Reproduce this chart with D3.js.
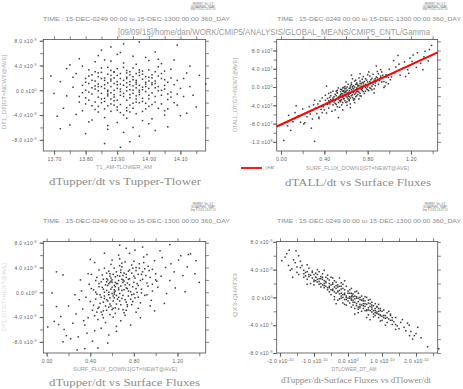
<!DOCTYPE html>
<html>
<head>
<meta charset="utf-8">
<script src="https://cdn.jsdelivr.net/npm/d3@7"></script>
<style>
body{margin:0;background:#fff;}
svg{display:block;}
</style>
</head>
<body>
<div id="vis"></div>
<script>
// header text
var timeLine = "TIME : 15-DEC-0249 00:00 to 15-DEC-1300 00:00 360_DAY";
var pathLine = "[09/09/15]/home/dan/WORK/CMIP5/ANALYSIS/GLOBAL_MEANS/CMIP5_CNTL/Gamma";
var stamp = ["FERRET Ver. 6.9", "NOAA/PMEL TMAP", "Sep 9 2015 13:47:13"];
var titles = ["dTupper/dt vs Tupper-Tlower", "dTALL/dt vs Surface Fluxes", "dTupper/dt vs Surface Fluxes", "dTupper/dt-Surface Fluxes vs dTlower/dt"];
var xTitles = ["T1_AM-TLOWER_AM", "SURF_FLUX_DOWN1[GT=NEWT@AVE]", "SURF_FLUX_DOWN1[GT=NEWT@AVE]", "DTLOWER_DT_AM"];
var yTitles = ["DT1_DT[GT=NEWT@AVE]", "DTALL_DT[GT=NEWT@AVE]", "DT1_DT[GT=NEWT@AVE]", "QX3-QHATX3"];

// panel 1 : x = T1_AM-TLOWER_AM, y in 1e-9
var p1 = [[13.93,0.5],[13.88,1.8],[13.97,-0.7],[13.85,2.9],[14.02,1.1],[13.91,-2.3],[13.79,0.8],[14.06,-1.5],[13.95,3.6],[13.87,-0.2],
[13.99,2.2],[13.83,-3.1],[14.01,-0.4],[13.90,1.4],[13.94,-1.2],[13.81,3.3],[14.08,0.9],[13.96,-3.8],[13.86,0.3],[14.04,2.7],
[13.89,-1.7],[13.92,4.4],[13.78,-1.0],[14.00,-2.6],[13.84,1.0],[13.98,0.1],[13.93,-4.5],[14.11,1.9],[13.80,-2.2],[13.95,1.7],
[13.88,-3.4],[14.03,3.8],[13.76,2.1],[13.91,0.2],[14.07,-0.3],[13.86,4.9],[13.97,2.9],[13.82,-0.6],[14.05,-3.3],[13.90,-5.2],
[13.74,-0.9],[13.99,5.3],[13.94,2.5],[13.85,-2.0],[14.02,0.4],[13.89,3.0],[14.09,-2.4],[13.80,0.0],[13.96,-0.9],[13.87,1.2],
[14.13,0.6],[13.93,-2.8],[13.77,-3.9],[14.00,1.5],[13.84,5.6],[13.98,-1.8],[13.91,6.1],[14.06,1.3],[13.83,0.7],[13.95,-6.0],
[13.72,1.4],[14.01,-4.6],[13.88,2.4],[14.04,-0.8],[13.79,3.9],[13.92,-0.5],[14.10,-4.1],[13.86,-4.4],[13.97,0.8],[13.81,-5.1],
[14.03,5.0],[13.90,3.5],[13.75,-5.6],[13.94,0.9],[14.07,3.4],[13.85,-1.4],[13.99,-3.0],[13.89,0.0],[14.12,2.8],[13.82,2.5],
[13.96,4.2],[13.73,-2.9],[14.02,-1.9],[13.87,-6.3],[14.05,0.2],[13.93,1.9],[13.78,5.1],[14.00,-5.4],[13.84,-2.6],[13.98,3.1],
[13.91,-3.6],[14.08,-2.0],[13.80,-7.0],[13.95,-2.1],[14.14,-0.8],[13.86,1.6],[14.01,2.0],[13.76,0.5],[13.92,7.5],[13.97,-7.4],
[13.83,4.6],[14.04,4.3],[13.88,-0.4],[13.71,-4.2],[14.06,-5.9],[13.94,-8.3],[13.85,6.5],[14.09,1.6],[13.90,-1.6],[13.99,0.6],
[13.81,1.1],[14.03,-2.9],[13.87,3.7],[13.96,1.0],[14.11,-1.0],[13.79,-3.3],[13.93,3.2],[14.00,4.8],[13.84,-0.1],[13.98,-4.9],
[13.89,2.0],[14.15,-2.7],[13.82,-4.8],[13.95,0.0],[14.05,1.7],[13.77,2.7],[13.91,-0.8],[14.02,6.2],[13.86,-3.0],[13.97,2.4],
[13.74,3.5],[14.07,-1.1],[13.92,-6.8],[13.83,3.0],[14.01,0.9],[13.88,4.7],[14.13,3.9],[13.80,1.9],[13.94,-3.5],[13.99,-0.2],
[13.70,-0.5],[14.04,0.0],[13.90,5.8],[13.85,0.6],[14.08,4.9],[13.96,-1.4],[13.78,-1.9],[13.93,2.8],[14.02,-6.5],[13.87,-5.7],
[13.84,2.2],[14.10,0.3],[13.98,1.8],[13.81,-1.6],[13.95,5.5],[14.05,-4.0],[13.89,-2.4],[13.75,4.1],[14.00,3.3],[13.92,-4.0],
[13.86,-8.6],[13.91,-9.2],[14.16,2.4],[14.18,1.0],[13.69,2.3],[13.72,-6.2],[14.12,-3.7],[13.88,7.0],[13.97,7.8],[14.09,7.3],
[13.90,0.9],[13.96,1.3],[13.87,-0.9],[14.00,0.3],[13.84,-1.1],[13.93,2.1],[13.98,-1.3],[13.89,1.1],[14.03,-0.1],[13.86,2.0],
[13.95,-0.5],[13.92,0.8],[13.82,1.6],[14.01,2.5],[13.88,-2.2],[13.97,-2.0],[13.91,2.7],[14.05,0.8],[13.85,-0.5],[13.94,1.4],
[13.99,1.0],[13.83,0.2],[13.90,-2.7],[14.02,-1.0],[13.87,2.6],[13.96,0.4],[13.93,-1.6],[13.80,1.3],[14.04,1.9],[13.89,-1.1],
[13.98,2.6],[13.86,-1.8],[13.92,1.6],[14.00,-0.8],[13.84,2.8],[13.95,-2.9],[13.88,0.6],[14.06,-0.6],[13.91,-0.2],[13.97,3.3],
[13.82,-2.5],[13.94,0.1],[14.01,1.2],[13.87,0.0],[13.99,-2.1],[13.85,1.9],[13.93,1.2],[14.03,2.3],[13.90,0.3],[13.96,-1.9],
[13.81,-0.3],[13.92,-1.0],[14.07,2.0],[13.88,3.2],[13.95,2.2],[13.84,-3.5],[14.02,3.0],[13.89,-0.7],[13.98,0.5],[13.86,0.9],
[13.94,3.0],[14.00,-1.4],[13.83,1.5],[13.91,1.9],[13.97,-0.3],[13.87,-2.5],[14.04,-2.2],[13.90,2.4],[13.93,-0.1],[13.85,3.6],
[14.09,-0.6],[13.79,-0.4],[13.96,1.6],[13.88,1.5],[14.01,-2.3],[13.92,3.7],[13.82,0.4],[13.99,1.3],[13.86,-1.3],[13.94,-2.4],
[14.05,3.1],[13.90,-3.2],[13.97,0.0],[13.84,0.6],[14.03,0.6],[13.89,2.9],[13.95,0.7],[13.81,2.3],[14.00,2.1],[13.87,-0.6],
[13.93,-3.3],[14.06,-3.0],[13.91,1.0],[13.98,-3.4],[13.83,-1.9],[13.96,2.7],[13.88,-1.4],[14.02,1.5],[13.80,-1.2],[13.94,-0.7]];

// panel 2 : x = surface flux, y in 1e7
var p2 = [[0.62,-1.2],[0.55,-2.9],[0.71,0.4],[0.48,-3.9],[0.80,1.1],[0.66,-2.3],[0.43,-2.5],[0.75,-0.8],[0.59,-0.4],[0.52,-4.3],
[0.84,0.2],[0.68,1.3],[0.46,-1.9],[0.73,-1.9],[0.57,-1.5],[0.90,2.9],[0.64,-0.2],[0.40,-5.0],[0.78,-0.1],[0.61,-3.2],
[0.50,-1.6],[0.87,0.9],[0.70,-0.3],[0.53,-2.2],[0.95,1.2],[0.66,-1.0],[0.44,-4.6],[0.82,2.4],[0.58,-2.6],[0.74,-2.0],
[0.36,-3.1],[0.69,1.5],[0.92,2.1],[0.56,-0.6],[0.79,0.3],[0.47,-5.3],[0.63,-2.8],[1.00,3.9],[0.51,-0.9],[0.76,0.9],
[0.41,-2.9],[0.85,2.8],[0.60,-1.1],[0.72,-2.6],[0.33,-5.8],[0.97,1.0],[0.65,0.5],[0.54,-4.4],[0.88,2.2],[0.45,-2.3],
[0.77,-1.4],[0.62,0.6],[1.05,3.1],[0.38,-5.6],[0.81,-0.8],[0.57,-3.4],[0.69,-1.3],[0.49,-3.3],[0.93,3.3],[0.73,0.8],
[0.30,-3.9],[0.86,-0.4],[0.59,0.1],[1.09,5.0],[0.42,-3.6],[0.67,-2.9],[0.83,1.6],[0.52,-1.3],[0.99,2.1],[0.35,-6.6],
[0.75,1.7],[0.61,-4.0],[0.46,-1.2],[0.90,0.6],[0.70,-1.9],[1.13,4.2],[0.55,-0.5],[0.27,-5.9],[0.80,2.7],[0.64,-3.7],
[0.39,-4.3],[0.96,0.2],[0.72,2.0],[0.50,-5.0],[1.02,2.2],[0.58,-0.1],[0.32,-4.6],[0.87,1.8],[0.67,0.3],[0.44,-3.0],
[1.17,3.8],[0.78,-0.9],[0.24,-6.5],[0.62,-2.0],[0.93,1.1],[0.53,-0.2],[0.37,-4.9],[1.06,4.4],[0.74,-0.5],[0.48,-2.7],
[0.20,-4.8],[0.84,-0.6],[0.66,1.8],[1.21,5.6],[0.41,-1.8],[0.57,-5.0],[0.97,2.7],[0.29,-7.0],[0.79,1.5],[0.63,-0.8],
[1.10,2.6],[0.34,-3.7],[0.89,3.4],[0.51,-3.8],[0.70,0.6],[0.16,-6.3],[1.25,4.3],[0.45,-3.7],[0.82,-0.2],[0.60,1.1],
[0.22,-7.8],[1.01,1.6],[0.76,2.3],[0.42,-5.7],[1.14,5.5],[0.55,-1.9],[0.13,-5.6],[0.92,3.8],[0.68,-3.4],[0.31,-2.9],
[1.29,5.2],[0.48,-0.9],[0.86,-1.3],[0.18,-7.7],[1.04,5.8],[0.64,-4.5],[0.26,-4.3],[0.95,-0.1],[0.73,2.9],[0.38,-2.4],
[1.32,6.6],[0.11,-7.6],[0.81,3.3],[0.56,-3.9],[1.18,3.0],[0.35,-6.9],[0.99,0.7],[0.07,-6.2],[1.36,5.7],[0.44,-1.4],
[0.06,-8.5],[0.14,-4.1],[0.21,-8.1],[0.025,-11.7],[0.31,-11.9],[1.39,9.1],[1.26,7.5],[1.33,7.8],[1.08,6.9],[1.31,3.8],
[1.37,8.2],[1.22,7.0],[1.19,6.3],[0.28,-9.0],[0.09,-9.5],[0.53,-6.7],[0.88,4.6],[1.15,2.3],[0.42,0.2],[0.65,2.6],
[0.60,-2.0],[0.65,-0.6],[0.55,-1.6],[0.70,-1.0],[0.58,-1.9],[0.63,-1.5],[0.68,0.0],[0.52,-2.5],[0.73,-0.1],[0.61,-0.7],
[0.66,-1.7],[0.57,-2.3],[0.71,-0.9],[0.49,-2.1],[0.76,0.4],[0.62,-2.6],[0.54,-3.0],[0.69,-0.6],[0.80,0.0],[0.59,-1.2],
[0.64,-1.3],[0.47,-3.0],[0.74,0.2],[0.56,-2.8],[0.67,-0.4],[0.83,0.9],[0.60,-0.9],[0.72,-1.1],[0.51,-1.9],[0.78,0.6],
[0.63,-0.3],[0.53,-3.4],[0.70,0.9],[0.58,-0.8],[0.86,1.5],[0.65,-1.9],[0.45,-3.2],[0.75,-0.4],[0.61,-2.3],[0.68,-1.6],
[0.55,-1.0],[0.81,0.5],[0.66,0.1],[0.50,-2.9],[0.73,-1.4],[0.59,-3.0],[0.88,1.3],[0.62,-1.4],[0.77,1.2],[0.54,-2.0],
[0.69,-2.1],[0.57,-0.9],[0.84,1.9],[0.64,0.2],[0.48,-2.4],[0.72,0.3],[0.60,-3.4],[0.91,1.4],[0.67,-1.2],[0.52,-1.2],
[0.79,-0.4],[0.63,-2.1],[0.56,-1.5],[0.71,-1.6],[0.94,2.6],[0.65,0.9],[0.58,-2.5],[0.76,-1.0],[0.43,-3.8],[0.82,1.2],
[0.61,0.0],[0.74,0.7],[0.53,-2.6],[0.68,-2.6],[0.87,0.3],[0.59,-1.6],[0.66,-0.2],[0.50,-3.6],[0.78,1.8],[0.62,-1.7],
[0.97,2.2],[0.55,-3.2],[0.70,-0.2],[0.46,-2.8],[0.85,0.6],[0.64,-2.4],[0.73,1.3],[0.57,-0.2],[0.80,-0.6],[0.60,-0.3],
[0.92,2.4],[0.67,-2.6],[0.52,-0.7],[0.75,1.0],[0.63,-3.0],[0.89,2.0],[0.58,-1.0],[0.71,0.2],[0.83,-0.3],[0.69,0.6]];
// QHAT fit line end points (y in 1e7)
var qhatX = [-0.04, 1.447];
var qhatY = [-8.64, 7.57];

// panel 3 : x = surface flux, y in 1e-9
var p3 = [[0.62,0.4],[0.55,-1.2],[0.71,1.8],[0.48,0.9],[0.80,2.6],[0.66,-0.8],[0.43,-2.1],[0.75,0.2],[0.59,2.3],[0.52,-3.0],
[0.84,1.1],[0.68,3.2],[0.46,-0.3],[0.73,-1.6],[0.57,0.0],[0.90,3.8],[0.64,1.4],[0.40,-1.5],[0.78,-0.4],[0.61,-2.6],
[0.50,1.7],[0.87,0.5],[0.70,2.0],[0.53,-0.6],[0.95,2.4],[0.66,0.7],[0.44,-3.8],[0.82,3.5],[0.58,-1.9],[0.74,-2.3],
[0.36,-0.8],[0.69,4.1],[0.92,1.5],[0.56,1.1],[0.79,0.9],[0.47,-4.4],[0.63,-3.4],[1.00,3.0],[0.51,2.8],[0.76,1.2],
[0.41,0.6],[0.85,4.6],[0.60,-0.2],[0.72,-3.7],[0.33,-2.7],[0.97,0.2],[0.65,2.7],[0.54,-4.9],[0.88,2.1],[0.45,1.9],
[0.77,-1.1],[0.62,3.9],[1.05,2.6],[0.38,-4.1],[0.81,-0.9],[0.57,-2.4],[0.69,0.3],[0.49,-1.8],[0.93,4.2],[0.73,2.9],
[0.30,-1.2],[0.86,-1.7],[0.59,4.5],[1.09,4.0],[0.42,-2.9],[0.67,-1.4],[0.83,0.0],[0.52,0.5],[0.99,5.1],[0.35,-5.3],
[0.75,3.4],[0.61,-4.0],[0.46,2.4],[0.90,-0.5],[0.70,-2.8],[1.13,1.9],[0.55,3.1],[0.27,-3.5],[0.80,5.0],[0.64,-5.5],
[0.39,1.3],[0.96,-1.3],[0.72,4.9],[0.50,-5.8],[1.02,0.8],[0.58,1.6],[0.32,0.2],[0.87,2.9],[0.67,5.4],[0.44,-6.2],
[1.17,3.3],[0.78,-2.0],[0.24,-5.0],[0.62,-0.9],[0.93,1.0],[0.53,3.9],[0.37,-6.6],[1.06,5.6],[0.74,0.6],[0.48,-2.4],
[0.20,-2.2],[0.84,-2.6],[0.66,6.0],[1.21,5.2],[0.41,2.9],[0.57,-6.9],[0.97,3.7],[0.29,-7.2],[0.79,3.9],[0.63,0.9],
[1.10,-0.2],[0.34,-4.6],[0.89,5.7],[0.51,-3.6],[0.70,1.6],[0.16,-6.0],[1.25,2.7],[0.45,0.0],[0.82,-3.2],[0.60,5.2],
[0.22,-7.5],[1.01,1.8],[0.76,6.3],[0.42,-7.9],[1.14,4.6],[0.55,2.2],[0.13,-3.9],[0.92,6.1],[0.68,-4.6],[0.31,2.0],
[1.29,4.1],[0.48,3.6],[0.86,-4.1],[0.18,-7.0],[1.04,6.7],[0.64,-6.3],[0.26,-0.4],[0.95,-2.2],[0.73,7.1],[0.38,3.0],
[1.32,6.2],[0.11,-5.2],[0.81,6.8],[0.56,-8.2],[1.18,0.7],[0.35,-9.1],[0.99,-3.0],[0.07,-4.7],[1.36,3.0],[0.44,4.8],
[0.01,-5.6],[0.05,-0.1],[0.67,7.6],[1.40,1.6],[0.88,7.3],[0.28,-9.3],[1.23,5.9],[0.15,-8.0],[0.53,6.3],[0.09,-2.3],
[1.08,-1.8],[0.40,5.3],[0.77,-5.3],[1.27,0.1],[0.47,-9.0],[0.09,3.3],[0.15,2.8],[1.13,7.7],[1.37,5.1],[1.30,6.1],
[0.60,0.8],[0.66,1.9],[0.55,0.3],[0.70,-0.5],[0.58,-0.9],[0.63,2.5],[0.68,1.0],[0.52,-1.6],[0.73,0.7],[0.61,-1.4],
[0.76,2.2],[0.57,1.4],[0.71,3.1],[0.49,-0.4],[0.80,1.6],[0.62,-0.3],[0.54,-2.2],[0.69,2.1],[0.84,2.9],[0.59,0.5],
[0.64,-1.9],[0.47,-2.6],[0.74,1.5],[0.56,2.0],[0.67,-0.2],[0.82,0.6],[0.60,1.6],[0.72,-1.2],[0.51,0.8],[0.78,3.1],
[0.63,0.2],[0.53,-1.0],[0.88,3.3],[0.58,3.0],[0.86,1.9],[0.65,-1.1],[0.45,-1.1],[0.75,-0.6],[0.61,2.9],[0.68,-2.0],
[0.55,-2.9],[0.81,2.3],[0.66,0.4],[0.50,-3.2],[0.73,2.4],[0.59,-2.2],[0.91,2.7],[0.62,1.1],[0.77,0.1],[0.54,1.2],
[0.69,-1.0],[0.57,-0.4],[0.84,-0.8],[0.64,3.3],[0.48,1.4],[0.72,1.2],[0.60,-2.8],[0.94,3.5],[0.67,2.6],[0.52,2.1],
[0.79,-1.5],[0.63,-2.5],[0.56,-1.4],[0.71,0.4],[0.97,1.3],[0.65,1.4],[0.58,2.6],[0.76,3.6],[0.43,0.4],[0.82,4.0],
[0.61,-0.6],[0.74,-2.0],[0.53,0.0],[0.68,3.6],[0.87,-0.1],[0.59,1.8],[0.66,-2.7],[0.50,-0.8],[0.78,4.4],[0.62,0.0],
[1.00,2.0],[0.55,1.7],[0.70,2.7],[0.46,-3.2],[0.85,3.9],[0.64,-0.5],[0.73,-2.9],[0.57,3.4],[0.80,-0.3],[0.60,2.0],
[0.92,-0.4],[0.67,4.3],[0.52,-4.1],[0.75,2.1],[0.63,1.6],[0.89,4.8],[0.58,-3.6],[0.71,-3.3],[0.83,1.4],[0.69,4.7]];

// panel 4 : x in 1e-10, y in 1e-9
var p4 = [[-0.30,1.5],[0.12,0.3],[-0.65,2.9],[0.45,-0.2],[-0.10,-0.3],[0.70,-2.1],[-0.85,1.9],[0.25,0.9],[-0.45,1.0],[0.90,-2.9],
[-0.20,2.1],[0.55,-1.8],[-1.05,3.8],[0.05,-0.8],[0.35,-1.5],[-0.55,2.5],[1.05,-1.8],[-0.75,3.4],[0.15,-1.1],[-0.35,0.6],
[0.80,-0.9],[-1.20,2.6],[0.60,-0.4],[-0.05,1.6],[0.40,0.2],[-0.90,2.2],[1.15,-3.6],[-0.25,-0.2],[0.20,-0.2],[-0.60,1.1],
[0.95,-1.6],[-1.35,4.6],[0.30,-2.2],[-0.15,0.4],[0.65,-1.3],[-0.70,2.0],[1.25,-2.4],[-0.40,2.4],[0.10,1.3],[-1.00,2.5],
[0.50,-0.9],[-0.50,0.4],[0.85,-2.3],[-1.15,4.2],[0.00,0.9],[0.75,-2.8],[-0.80,3.0],[0.35,0.0],[-0.30,-0.4],[1.10,-3.0],
[-1.45,3.3],[0.20,-1.6],[-0.20,1.2],[0.60,-2.5],[-0.95,3.5],[1.30,-3.9],[-0.10,-1.0],[0.45,-1.2],[-0.60,3.2],[0.90,-1.0],
[-1.25,3.1],[0.05,0.1],[-0.40,0.1],[0.70,-0.7],[-0.85,2.7],[1.40,-2.9],[0.25,-0.9],[-0.05,0.0],[-1.55,5.0],[0.55,-2.9],
[-0.70,1.4],[1.00,-3.3],[-0.25,2.8],[0.15,0.5],[-1.10,2.0],[0.80,-1.6],[-0.45,1.9],[1.20,-2.0],[0.30,0.6],[-0.15,-0.8],
[-0.90,4.0],[0.65,-0.3],[-1.65,4.1],[0.40,-2.0],[0.00,-0.5],[1.05,-2.6],[-0.55,0.8],[-1.30,3.9],[0.95,-3.4],[-0.35,1.7],
[0.10,-0.4],[1.35,-3.5],[-0.80,1.5],[0.50,0.1],[-1.05,2.8],[0.75,-1.9],[-0.20,-0.1],[1.50,-4.5],[-0.65,2.3],[0.20,0.8],
[-1.40,5.2],[0.85,-1.3],[-0.10,0.6],[1.15,-2.2],[-0.50,2.9],[0.35,-1.3],[-1.75,4.6],[0.60,-1.8],[-0.30,0.8],[1.45,-4.1],
[-0.95,2.9],[0.05,1.1],[-1.20,4.7],[0.90,-2.0],[-0.40,-0.3],[1.60,-3.2],[0.25,-0.1],[-0.75,2.6],[1.25,-3.3],[-1.50,3.6],
[0.45,-0.5],[-0.15,1.9],[1.70,-4.8],[-0.85,3.7],[0.15,-0.4],[-1.85,5.8],[0.70,-1.4],[-0.55,1.6],[1.10,-4.0],[-1.15,3.3],
[0.30,-1.7],[1.55,-3.6],[-0.25,1.0],[-1.60,5.4],[0.80,-2.6],[-0.05,-1.1],[1.80,-4.0],[-0.70,3.9],[0.55,0.0],[-1.30,2.9],
[1.30,-2.9],[0.10,-1.4],[-1.95,5.3],[0.95,-2.5],[-0.45,2.8],[1.85,-4.9],[-1.00,1.8],[0.40,-0.4],[1.65,-4.3],[-1.70,3.9],
[-1.73,6.8],[-1.53,6.7],[-1.63,2.9],[2.05,-4.3],[1.90,-6.0],[2.34,-7.1],[2.67,-7.4],[1.81,-5.5],[2.00,-5.2],[-1.80,6.3],
[1.75,-3.7],[-1.45,6.0],[0.65,-3.2],[-0.10,2.4],[1.95,-5.5],[-1.20,1.9],[0.20,-2.4],[1.40,-4.6],[-0.35,-0.9],[2.15,-5.8],
[-0.30,0.9],[0.10,0.6],[-0.50,1.8],[0.30,-0.6],[-0.10,0.4],[0.50,-1.3],[-0.70,2.4],[0.20,0.2],[-0.40,1.5],[0.70,-1.7],
[-0.20,0.2],[0.40,-1.1],[-0.90,2.6],[0.00,0.6],[0.60,-0.8],[-0.60,1.4],[0.90,-2.4],[-0.80,2.0],[0.15,-0.7],[-0.35,1.3],
[0.80,-1.9],[-1.00,3.3],[0.55,-1.0],[-0.15,1.3],[0.35,-0.3],[-0.65,2.1],[1.00,-2.0],[-0.25,0.5],[0.25,-1.2],[-0.55,2.0],
[0.85,-1.4],[-1.10,3.2],[0.45,-1.6],[-0.05,0.2],[0.65,-1.9],[-0.75,2.9],[1.10,-2.6],[-0.45,1.2],[0.05,-0.1],[-0.95,2.9],
[0.50,-0.5],[-0.50,1.1],[0.75,-1.2],[-1.20,3.7],[-0.10,1.1],[0.95,-2.6],[-0.85,2.3],[0.30,-0.1],[-0.30,1.8],[1.05,-2.9],
[-1.30,3.4],[0.20,-0.7],[-0.20,0.6],[0.60,-1.5],[-0.90,3.3],[1.20,-3.1],[-0.05,-0.3],[0.40,-0.4],[-0.60,2.7],[0.85,-2.1],
[-1.15,3.0],[0.10,-0.2],[-0.40,0.8],[0.70,-1.1],[-0.70,1.7],[1.15,-2.9],[0.25,0.1],[0.00,-0.1],[-1.40,4.3],[0.55,-1.9],
[-0.80,2.7],[0.90,-1.6],[-0.25,1.6],[0.15,0.1],[-1.05,3.6],[0.80,-2.2],[-0.45,2.1],[1.30,-3.3],[0.35,-1.0],[-0.15,0.0],
[-0.95,2.4],[0.65,-0.9],[-1.50,4.4],[0.45,-0.9],[0.05,0.6],[1.00,-2.7],[-0.55,1.4],[-1.25,3.6],[0.95,-1.9],[-0.35,2.2],
[0.10,0.1],[1.25,-2.6],[-0.75,1.8],[0.50,-1.9],[-1.00,2.3],[0.75,-2.4],[-0.20,1.6],[1.40,-3.9],[-0.65,1.6],[0.30,-1.4]];

// ticks and tick labels
var p1xTicks = [13.70,13.75,13.80,13.85,13.90,13.95,14.00,14.05,14.10,14.15];
var p1xLabVals = [13.70,13.80,13.90,14.00,14.10];
var p1xLabs = ["13.70","13.80","13.90","14.00","14.10"];
var fluxTicks = [0,0.2,0.4,0.6,0.8,1.0,1.2,1.4];
var fluxLabVals = [0,0.4,0.8,1.2];
var fluxLabs = ["0.00","0.40","0.80","1.20"];
var dtTicks = [-8,-6,-4,-2,0,2,4,6,8];
var dtLabVals = [-8,-4,0,4,8];
var dtLabs = ["-8.0","-4.0","0.0","4.0","8.0"];
var dtExp = ["-9","-9","0","-9","-9"];
var p2yTicks = [-12,-10,-8,-6,-4,-2,0,2,4,6,8,10];
var p2yLabVals = [-12,-8,-4,0,4,8];
var p2yLabs = ["-1.2","-8.0","-4.0","0.0","4.0","8.0"];
var p2yExp = ["8","7","7","0","7","7"];
var p4xTicks = [-2,-1.5,-1,-0.5,0,0.5,1,1.5,2,2.5];
var p4xLabVals = [-2,-1,0,1,2];
var p4xLabs = ["-2.0","-1.0","0.0","1.0","2.0"];
var p4xExp = ["-10","-10","0","-10","-10"];

var W = 463, H = 389;
var axisCol = "#4d4d4d", tickLabCol = "#5c5c5c", ptCol = "#3a3a3a";
var sans = "'Liberation Sans', Arial, sans-serif";
var serif = "'Liberation Serif', 'DejaVu Serif', serif";

var svg = d3.select("#vis").append("svg").attr("width", W).attr("height", H);
svg.append("rect").attr("width", W).attr("height", H).attr("fill", "#fff");

function txt(s, x, y, size, col, len, fam){
    var t = svg.append("text").text(s).attr("x", x).attr("y", y)
        .attr("font-size", size).attr("fill", col).attr("font-family", fam || sans);
    if(len){ t.attr("textLength", len).attr("lengthAdjust", "spacingAndGlyphs"); }
    return t;
}

// write mantissa + "x10" + superscript exponent into an axis label
function expLabel(sel, labs, exps){
    sel.each(function(d, i){
        var t = d3.select(this).text(null);
        if(exps){
            t.append("tspan").text(labs[i] + " x10");
            t.append("tspan").attr("dy", -2).attr("font-size", 3.6).text(exps[i]);
        }else{
            t.text(labs[i]);
        }
    });
}

var panels = [
    {id:1, l:43.3, r:205.7, t:39.5, b:151, xDom:[13.666,14.18], yDom:[-9.8,8.2], pts:p1,
     xTicks:p1xTicks, xLabVals:p1xLabVals, xLabs:p1xLabs, xExp:null,
     yTicks:dtTicks, yLabVals:dtLabVals, yLabs:dtLabs, yExp:dtExp, gap:6.5},
    {id:2, l:276.7, r:437.7, t:39.5, b:151, xDom:[-0.04,1.447], yDom:[-14,10.4], pts:p2,
     xTicks:fluxTicks, xLabVals:fluxLabVals, xLabs:fluxLabs, xExp:null,
     yTicks:p2yTicks, yLabVals:p2yLabVals, yLabs:p2yLabs, yExp:p2yExp, gap:4},
    {id:3, l:43.3, r:205.7, t:241.5, b:353, xDom:[-0.031,1.459], yDom:[-9.8,8.2], pts:p3,
     xTicks:fluxTicks, xLabVals:fluxLabVals, xLabs:fluxLabs, xExp:null,
     yTicks:dtTicks, yLabVals:dtLabVals, yLabs:dtLabs, yExp:dtExp, gap:6.5},
    {id:4, l:276.7, r:437.7, t:241.5, b:353, xDom:[-2.097,2.638], yDom:[-8,8.05], pts:p4,
     xTicks:p4xTicks, xLabVals:p4xLabVals, xLabs:p4xLabs, xExp:p4xExp,
     yTicks:dtTicks, yLabVals:dtLabVals, yLabs:dtLabs, yExp:dtExp, gap:4}
];

function drawPanel(p){
    var x = d3.scaleLinear().domain(p.xDom).range([p.l, p.r]);
    var y = d3.scaleLinear().domain(p.yDom).range([p.b, p.t]);
    var g = svg.append("g");

    // outward ticks on all four sides
    var sides = [
        [d3.axisBottom(x).tickValues(p.xTicks), "translate(0," + p.b + ")"],
        [d3.axisTop(x).tickValues(p.xTicks), "translate(0," + p.t + ")"],
        [d3.axisLeft(y).tickValues(p.yTicks), "translate(" + p.l + ",0)"],
        [d3.axisRight(y).tickValues(p.yTicks), "translate(" + p.r + ",0)"]
    ];
    sides.forEach(function(s){
        var a = g.append("g").attr("transform", s[1]).call(s[0].tickSize(3.2).tickFormat(""));
        a.select(".domain").remove();
        a.selectAll("line").attr("stroke", axisCol).attr("stroke-width", 0.7);
    });

    // frame
    g.append("rect").attr("x", p.l).attr("y", p.t).attr("width", p.r - p.l).attr("height", p.b - p.t)
        .attr("fill", "none").attr("stroke", axisCol).attr("stroke-width", 0.8);

    // labelled ticks
    var xa = g.append("g").attr("transform", "translate(0," + p.b + ")")
        .call(d3.axisBottom(x).tickValues(p.xLabVals).tickSize(3.8));
    xa.select(".domain").remove();
    xa.attr("font-size", 5).attr("font-family", sans);
    xa.selectAll("line").attr("stroke", axisCol).attr("stroke-width", 0.7);
    xa.selectAll("text").attr("y", 10).attr("dy", null).attr("fill", tickLabCol).attr("letter-spacing", 0.3);
    expLabel(xa.selectAll("text"), p.xLabs, p.xExp);

    var ya = g.append("g").attr("transform", "translate(" + p.l + ",0)")
        .call(d3.axisLeft(y).tickValues(p.yLabVals).tickSize(3.8));
    ya.select(".domain").remove();
    ya.attr("font-size", 5).attr("font-family", sans);
    ya.selectAll("line").attr("stroke", axisCol).attr("stroke-width", 0.7);
    ya.selectAll("text").attr("x", -p.gap).attr("dy", "0.35em").attr("fill", tickLabCol).attr("letter-spacing", 0.3);
    expLabel(ya.selectAll("text"), p.yLabs, p.yExp);

    // points
    g.append("g").selectAll("rect").data(p.pts).join("rect")
        .attr("x", function(d){ return x(d[0]) - 0.75; })
        .attr("y", function(d){ return y(d[1]) - 0.75; })
        .attr("width", 1.5).attr("height", 1.5)
        .attr("fill", ptCol);

    return {x:x, y:y, g:g};
}

var drawn = panels.map(drawPanel);

// QHAT regression line on panel 2
var q = drawn[1];
var qline = d3.line().x(function(d){ return q.x(d[0]); }).y(function(d){ return q.y(d[1]); });
q.g.append("path").datum(d3.zip(qhatX, qhatY)).attr("d", qline)
    .attr("fill", "none").attr("stroke", "#ff0000").attr("stroke-width", 2);
svg.append("line").attr("x1", 241).attr("x2", 262).attr("y1", 168).attr("y2", 168)
    .attr("stroke", "#ff0000").attr("stroke-width", 1.8);
txt("QHAT", 265, 169.3, 3.6, "#888");

// page headers
txt(pathLine, 118, 35, 8.5, "#9a9a9a", 312);
[[43, 21, 187], [277, 21, 184], [43, 223, 187], [277, 223, 184]].forEach(function(h){
    txt(timeLine, h[0], h[1], 6.2, "#8a8a8a", h[2]);
});
[[203, 4.6], [435, 4.6], [203, 205], [435, 205]].forEach(function(h){
    stamp.forEach(function(s, i){
        txt(s, h[0], h[1] + i * 2.9, 2.7, "#777").attr("text-anchor", "middle");
    });
});

// axis titles and plot titles
var xt = [[124, 169, 56], [357.5, 170, 103], [125, 371, 104], [354, 371, 45]];
var yt = [[5.7, 92, 75, "#a8a8a8"], [236.7, 95, 74, "#a8a8a8"], [5.7, 297, 68, "#dcdcdc"], [236.7, 295, 44, "#a8a8a8"]];
var tt = [[49, 185, 152, 10.5], [285, 185.5, 146, 10.5], [49, 386, 151, 10.5], [281, 382.5, 150, 9]];
for(var i = 0; i < 4; i++){
    txt(xTitles[i], xt[i][0], xt[i][1], 5.4, "#9a9a9a", xt[i][2]).attr("text-anchor", "middle");
    txt(yTitles[i], 0, 0, 5.6, yt[i][3], yt[i][2])
        .attr("text-anchor", "middle")
        .attr("transform", "translate(" + yt[i][0] + "," + yt[i][1] + ") rotate(-90)");
    txt(titles[i], tt[i][0], tt[i][1], tt[i][3], "#8c8c8c", tt[i][2], serif);
}
</script>
</body>
</html>
